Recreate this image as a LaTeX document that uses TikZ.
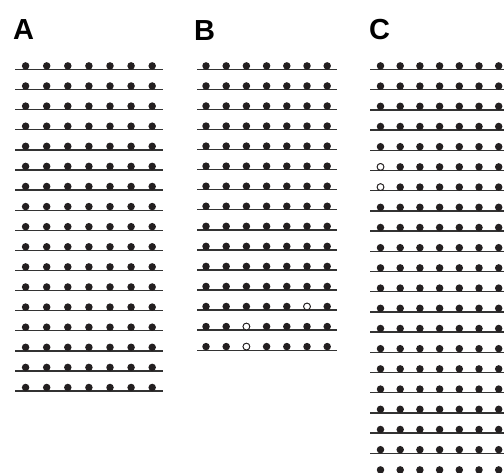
\documentclass[tikz,border=0pt]{standalone}
\usepackage{fontspec}
\setsansfont{Liberation Sans}
\usetikzlibrary{positioning}
\usepackage{xcolor}
\definecolor{DotInk}{HTML}{231F20}
\definecolor{RuleInk}{HTML}{333333}

\begin{document}
\begin{tikzpicture}[x=1pt, y=-1pt,
  panellabel/.style={font=\sffamily\bfseries\fontsize{29}{29}\selectfont, inner sep=0pt, anchor=base west},
  rowline/.style={draw=RuleInk, line width=1.3pt},
  fulldot/.style={fill=DotInk},
  opendot/.style={draw=DotInk, fill=white, line width=0.9pt}]
  \useasboundingbox (0,0) rectangle (504,473);
  \clip (0,0) rectangle (504,473);

  % panel A
  \node[panellabel] (labA) at (13,39.5) {A};
  \foreach \r in {0,...,16}{
    \draw[rowline] (15,69.5+20.1*\r) -- (163,69.5+20.1*\r);
    \foreach \c in {0,...,6}
      \fill[fulldot] (25.6+21.1*\c,65.9+20.1*\r) circle (3.75pt);
  }

  % panel B
  \node[panellabel] (labB) at (194,41) {B};
  \foreach \r in {0,...,14}{
    \draw[rowline] (197,69.5+20.05*\r) -- (337,69.5+20.05*\r);
    \foreach \c in {0,...,6}
      \fill[fulldot] (206+20.2*\c,65.9+20.05*\r) circle (3.75pt);
  }
  \foreach \r/\c in {12/5, 13/2, 14/2}
    \draw[opendot] (206+20.2*\c,65.9+20.05*\r) circle (3.4pt);

  % panel C
  \node[panellabel] (labC) at (369,39.5) {C};
  \foreach \r in {0,...,20}{
    \draw[rowline] (370,69.5+20.2*\r) -- (510,69.5+20.2*\r);
    \foreach \c in {0,...,6}
      \fill[fulldot] (380.5+19.7*\c,65.9+20.2*\r) circle (3.75pt);
  }
  \foreach \r/\c in {5/0, 6/0}
    \draw[opendot] (380.5+19.7*\c,65.9+20.2*\r) circle (3.4pt);
\end{tikzpicture}
\end{document}
